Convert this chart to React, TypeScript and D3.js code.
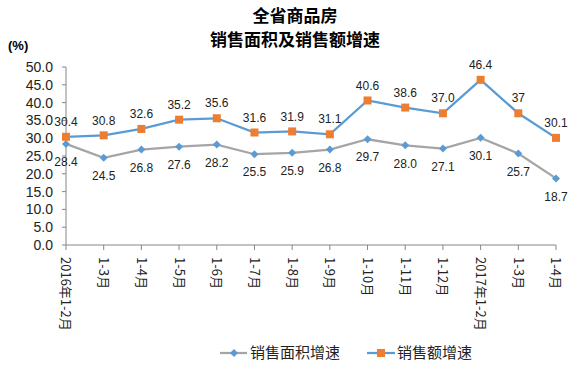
import React from "react";
import * as d3 from "d3";

const categories = ["2016年1-2月", "1-3月", "1-4月", "1-5月", "1-6月", "1-7月", "1-8月", "1-9月", "1-10月", "1-11月", "1-12月", "2017年1-2月", "1-3月", "1-4月"];
const areaGrowth = [28.4, 24.5, 26.8, 27.6, 28.2, 25.5, 25.9, 26.8, 29.7, 28.0, 27.1, 30.1, 25.7, 18.7];
const salesGrowth = [30.4, 30.8, 32.6, 35.2, 35.6, 31.6, 31.9, 31.1, 40.6, 38.6, 37.0, 46.4, 37, 30.1];
const salesLabels = ["30.4", "30.8", "32.6", "35.2", "35.6", "31.6", "31.9", "31.1", "40.6", "38.6", "37.0", "46.4", "37", "30.1"];
const yTicks = [0, 5, 10, 15, 20, 25, 30, 35, 40, 45, 50];
const seriesNames = ["销售面积增速", "销售额增速"];

const W = 586, H = 373;
const FONT = "'Microsoft YaHei', 'Noto Sans CJK SC', sans-serif";
const NUMFONT = "'Liberation Sans', Arial, sans-serif";

export default function App() {
  const x = d3.scalePoint<number>().domain(d3.range(categories.length)).range([66, 556]);
  const y = d3.scaleLinear().domain([0, 50]).range([245, 67]);
  const line = d3.line<number>().x((_, i) => x(i)!).y(d => y(d));
  const grayC = "#A5A5A5", blueC = "#5B9BD5", orangeC = "#ED7D31";
  const diamond = (cx: number, cy: number, r = 4) => `M${cx},${cy - r}L${cx + r},${cy}L${cx},${cy + r}L${cx - r},${cy}Z`;
  return (
    <svg width={W} height={H} style={{ position: "absolute", left: 0, top: 0, background: "#fff" }} fontFamily={FONT}>
      <text x={295} y={22} textAnchor="middle" fontSize={17} fontWeight="bold">全省商品房</text>
      <text x={295} y={46} textAnchor="middle" fontSize={17} fontWeight="bold">销售面积及销售额增速</text>
      <text x={8} y={50} fontSize={13} fontWeight="bold" fontFamily={NUMFONT}>(%)</text>
      {/* y axis */}
      <line x1={66} x2={66} y1={y(50)} y2={y(0)} stroke="#868686" />
      {yTicks.map(t => (
        <g key={t}>
          <line x1={62} x2={66} y1={y(t)} y2={y(t)} stroke="#868686" />
          <text x={53} y={y(t)} dy="0.35em" textAnchor="end" fontSize={14} fontFamily={NUMFONT} fill="#222">{t.toFixed(1)}</text>
        </g>
      ))}
      {/* x axis */}
      <line x1={66} x2={556} y1={y(0)} y2={y(0)} stroke="#868686" />
      {categories.map((c, i) => (
        <g key={i}>
          <line x1={x(i)!} x2={x(i)!} y1={y(0)} y2={y(0) + 5} stroke="#868686" />
          <text transform={`translate(${x(i)!},${y(0) + 12}) rotate(90)`} dy="0.35em" fontSize={13} fill="#222">{c}</text>
        </g>
      ))}
      {/* lines */}
      <path d={line(areaGrowth)!} fill="none" stroke={grayC} strokeWidth={2.25} />
      <path d={line(salesGrowth)!} fill="none" stroke={blueC} strokeWidth={2.25} />
      {areaGrowth.map((v, i) => (
        <g key={"a" + i}>
          <path d={diamond(x(i)!, y(v))} fill={blueC} />
          <text x={x(i)!} y={y(v) + 18} dy="0.35em" textAnchor="middle" fontSize={12} fontFamily={NUMFONT} fill="#222">{v.toFixed(1)}</text>
        </g>
      ))}
      {salesGrowth.map((v, i) => (
        <g key={"s" + i}>
          <rect x={x(i)! - 4} y={y(v) - 4} width={8} height={8} fill={orangeC} />
          <text x={x(i)!} y={y(v) - 15} dy="0.35em" textAnchor="middle" fontSize={12} fontFamily={NUMFONT} fill="#222">{salesLabels[i]}</text>
        </g>
      ))}
      {/* legend */}
      <g>
        <line x1={220} x2={247} y1={353} y2={353} stroke={grayC} strokeWidth={2.25} />
        <path d={diamond(234, 353)} fill={blueC} />
        <text x={250} y={353} dy="0.35em" fontSize={15} fill="#222">{seriesNames[0]}</text>
        <line x1={367} x2={395} y1={353} y2={353} stroke={blueC} strokeWidth={2.25} />
        <rect x={377} y={349} width={8} height={8} fill={orangeC} />
        <text x={397} y={353} dy="0.35em" fontSize={15} fill="#222">{seriesNames[1]}</text>
      </g>
    </svg>
  );
}
